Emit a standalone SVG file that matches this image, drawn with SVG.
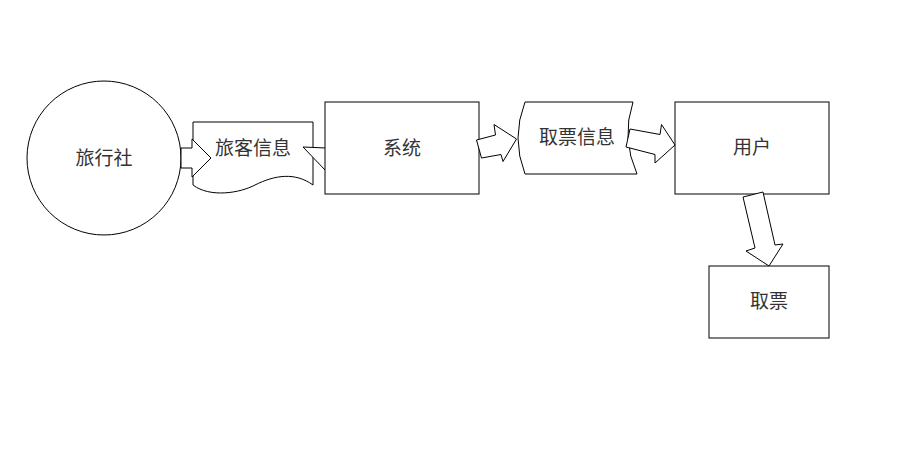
<svg xmlns="http://www.w3.org/2000/svg" width="922" height="467" viewBox="0 0 922 467">
<style>
.s{fill:#fff;stroke:#000;stroke-width:1}
.t{font-family:"Noto Sans CJK SC","Liberation Sans",sans-serif;font-size:19px;fill:#333;text-anchor:middle;dominant-baseline:central}
</style>
<rect width="922" height="467" fill="#fff"/>
<g id="travel-agency">
<circle class="s" cx="104" cy="158" r="77"/>
<text class="t" x="104" y="156">旅行社</text>
</g>
<g id="passenger-info">
<path class="s" d="M193,122 H313 V185 C295,172 275,175 255,185 C240,193 210,198 193,185 Z"/>
<text class="t" x="253" y="146">旅客信息</text>
</g>
<g id="connectors-under">
<polygon class="s" points="303,147 326,148 326,171"/>
</g>
<g id="system">
<rect class="s" x="325" y="102" width="154" height="92"/>
<text class="t" x="402" y="146">系统</text>
</g>
<g id="ticket-info">
<path class="s" d="M525,102 H633 Q621,138 637,174 H525 Q511,138 525,102 Z"/>
<text class="t" x="577" y="135">取票信息</text>
</g>
<g id="user">
<rect class="s" x="675" y="102" width="154" height="92"/>
<text class="t" x="752" y="145">用户</text>
</g>
<g id="ticket">
<rect class="s" x="709" y="266" width="120" height="72"/>
<text class="t" x="769" y="299">取票</text>
</g>
<g id="connectors">
<polygon class="s" points="181,148 192,148 192,139 211,158 192,177 192,168 181,168"/>
<polygon class="s" points="476.5,140 495.5,135 494,124.5 516.5,139 503,161.5 501,154.5 481.5,158"/>
<polygon class="s" points="630,129 660,134.5 661.5,124.5 675,145 655,163 655,154.5 626,147"/>
<polygon class="s" points="743,197 763,192 775,245 783,244 769,266 746,251 755,248"/>
</g>
</svg>
